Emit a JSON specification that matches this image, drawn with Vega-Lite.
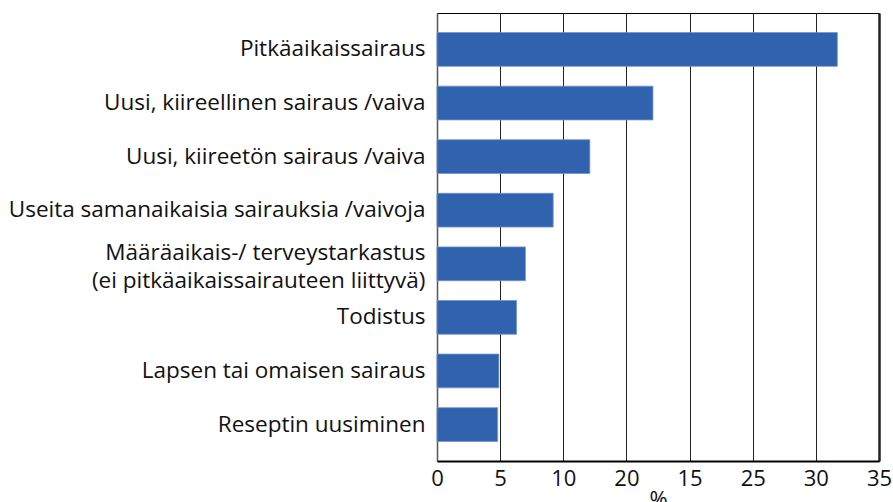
{
  "$schema": "https://vega.github.io/schema/vega-lite/v6.json",
  "autosize": "none",
  "width": 442,
  "height": 448,
  "padding": {"left": 437, "top": 13, "right": 14, "bottom": 41},
  "background": "white",
  "data": {
    "values": [
      {"syy": "Pitkäaikaissairaus", "osuus": 31.7},
      {"syy": "Uusi, kiireellinen sairaus /vaiva", "osuus": 17.1},
      {"syy": "Uusi, kiireetön sairaus /vaiva", "osuus": 12.1},
      {"syy": "Useita samanaikaisia sairauksia /vaivoja", "osuus": 9.2},
      {"syy": "Määräaikais-/ terveystarkastus|(ei pitkäaikaissairauteen liittyvä)", "osuus": 7.0},
      {"syy": "Todistus", "osuus": 6.3},
      {"syy": "Lapsen tai omaisen sairaus", "osuus": 4.9},
      {"syy": "Reseptin uusiminen", "osuus": 4.8}
    ]
  },
  "mark": {"type": "bar", "color": "#3162ae", "stroke": "#6f93cc", "strokeWidth": 0.8},
  "encoding": {
    "y": {
      "field": "syy",
      "type": "nominal",
      "sort": null,
      "scale": {"paddingInner": 0.37, "paddingOuter": 0.365},
      "axis": {
        "title": null,
        "ticks": false,
        "domain": true,
        "domainColor": "#555555",
        "domainWidth": 1.5,
        "labelPadding": 12,
        "labelFont": "Open Sans",
        "labelFontSize": 22.5,
        "labelColor": "#111111",
        "labelLimit": 500,
        "labelLineHeight": 28,
        "labelOffset": {"condition": {"test": "indexof(datum.value, '|') >= 0", "value": -11}, "value": 0},
        "labelExpr": "split(datum.label, '|')"
      }
    },
    "x": {
      "field": "osuus",
      "type": "quantitative",
      "scale": {"domain": [0, 35], "nice": false},
      "axis": {
        "title": "%",
        "titleFont": "Open Sans",
        "titleFontSize": 22,
        "titleFontWeight": "normal",
        "titleColor": "#111111",
        "titlePadding": 0,
        "values": [0, 5, 10, 15, 20, 25, 30, 35],
        "labelExpr": "datum.value == 15 ? '20' : datum.value == 20 ? '15' : datum.label",
        "ticks": false,
        "labelPadding": 7,
        "labelFont": "Open Sans",
        "labelFontSize": 22,
        "labelColor": "#111111",
        "labelFlush": false,
        "domainColor": "#000000",
        "domainWidth": 2,
        "grid": true,
        "gridColor": "#222222",
        "gridOpacity": 1,
        "gridWidth": {"condition": {"test": "datum.value == 35", "value": 2.5}, "value": 1}
      }
    }
  },
  "config": {
    "view": {"stroke": "#000000", "strokeWidth": 1}
  }
}
